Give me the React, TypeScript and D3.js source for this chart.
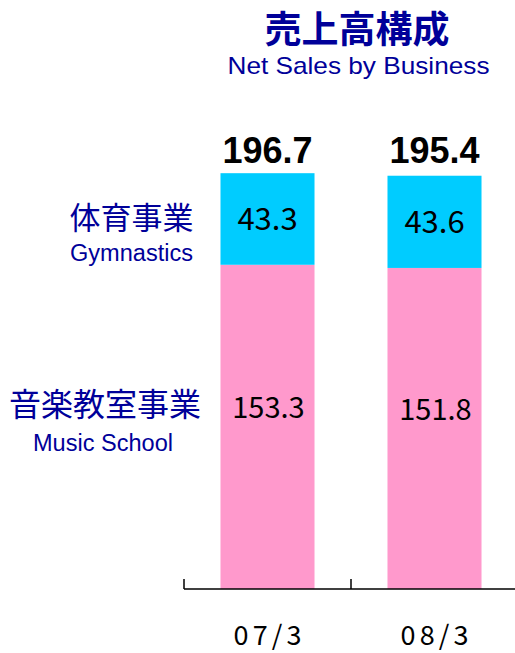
import React from "react";
import * as d3 from "d3";

const categories = ["07/3", "08/3"];
const musicSchool = [153.3, 151.8];
const gymnastics = [43.3, 43.6];
const totals = [196.7, 195.4];
const titleJa = "売上高構成";
const titleEn = "Net Sales by Business";

const W = 515;
const H = 653;
const NAVY = "#000099";
const BLUE = "#00CCFF";
const PINK = "#FF99CC";

export default function App() {
  const x = d3.scaleBand<string>().domain(categories).range([184, 518]).padding(0);
  const barW = x.bandwidth() * 0.563;
  const y = d3.scaleLinear().domain([0, 200]).range([589, 166]);
  const cjk = "'Noto Sans CJK JP', sans-serif";
  const arial = "'Liberation Sans', Arial, sans-serif";
  const ticks = [...categories.map((c) => x(c)!), 518];

  return (
    <svg width={W} height={H} style={{ position: "absolute", left: 0, top: 0 }}>
      <rect width={W} height={H} fill="#fff" />
      <text x={357} y={43} textAnchor="middle" fontFamily={cjk} fontWeight="bold" fontSize={37} fill={NAVY}>{titleJa}</text>
      <text x={358.5} y={74} textAnchor="middle" fontFamily={arial} fontSize={24} textLength={262} lengthAdjust="spacingAndGlyphs" fill={NAVY}>{titleEn}</text>

      {categories.map((c, i) => {
        const cx = x(c)! + x.bandwidth() / 2;
        const x0 = cx - barW / 2;
        const pinkTop = y(musicSchool[i]);
        const blueTop = y(musicSchool[i] + gymnastics[i]);
        return (
          <g key={c}>
            <rect x={x0} y={pinkTop} width={barW} height={y(0) - pinkTop} fill={PINK} />
            <rect x={x0} y={blueTop} width={barW} height={pinkTop - blueTop} fill={BLUE} />
            <text x={cx} y={(blueTop + pinkTop) / 2} dy="0.36em" textAnchor="middle" fontFamily={cjk} fontSize={31} fill="#000">{gymnastics[i].toFixed(1)}</text>
            <text x={cx + 1} y={(pinkTop + y(0)) / 2 - 19} dy="0.36em" textAnchor="middle" fontFamily={cjk} fontSize={29} fill="#000">{musicSchool[i].toFixed(1)}</text>
            <text x={cx} y={163} textAnchor="middle" fontFamily={arial} fontWeight="bold" fontSize={36} fill="#000">{totals[i].toFixed(1)}</text>
            <text x={cx} y={645} textAnchor="middle" fontFamily={cjk} fontSize={27} textLength={68} lengthAdjust="spacing" fill="#000">{c}</text>
          </g>
        );
      })}

      <line x1={184} x2={W} y1={589} y2={589} stroke="#000" strokeWidth={1.5} />
      {ticks.map((t, i) => (
        <line key={i} x1={t} x2={t} y1={579} y2={589} stroke="#000" strokeWidth={1.5} />
      ))}

      <text x={131.5} y={229} textAnchor="middle" fontFamily={cjk} fontSize={31} fill={NAVY}>体育事業</text>
      <text x={131.5} y={261} textAnchor="middle" fontFamily={arial} fontSize={23} textLength={123} lengthAdjust="spacingAndGlyphs" fill={NAVY}>Gymnastics</text>
      <text x={105} y={416} textAnchor="middle" fontFamily={cjk} fontSize={32} fill={NAVY}>音楽教室事業</text>
      <text x={103} y={451} textAnchor="middle" fontFamily={arial} fontSize={23} textLength={140} lengthAdjust="spacingAndGlyphs" fill={NAVY}>Music School</text>
    </svg>
  );
}
